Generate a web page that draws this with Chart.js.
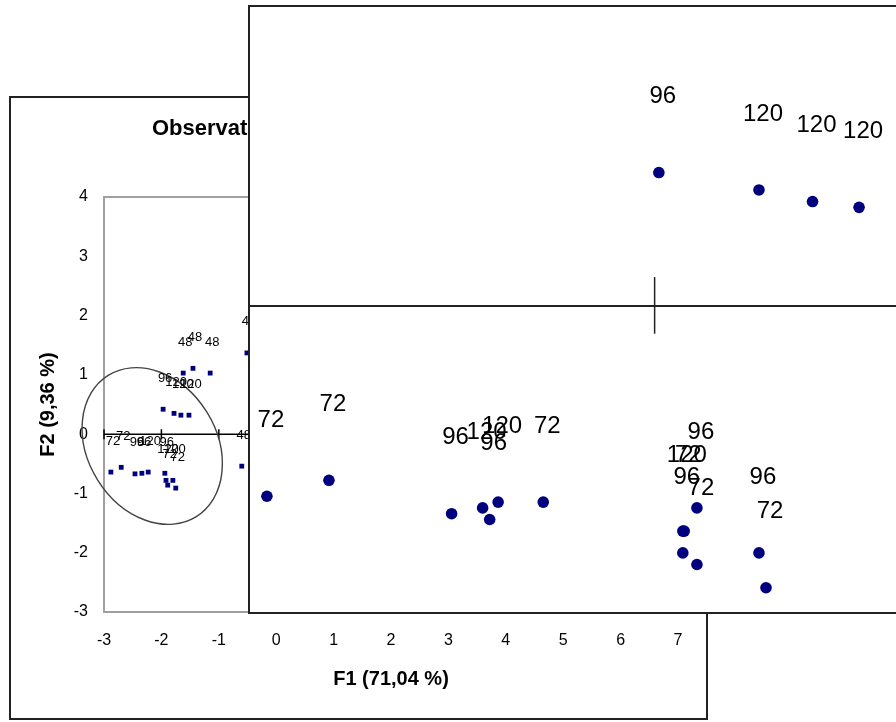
<!DOCTYPE html>
<html>
<head>
<meta charset="utf-8">
<script src="https://cdn.jsdelivr.net/npm/chart.js"></script>
<style>
  html, body { margin: 0; padding: 0; background: #fff; overflow: hidden; }
  #main { position: absolute; left: 0; top: 0; }
  #zoom { position: absolute; left: 248px; top: 5px; }
</style>
</head>
<body>
<canvas id="main" width="896" height="722"></canvas>
<canvas id="zoom" width="660" height="609"></canvas>
<script>
// titles
const chartTitle = 'Observations (axes F1 et F2 : 80,40 %)';
const xTitle = 'F1 (71,04 %)';
const yTitle = 'F2 (9,36 %)';

// main map: observations (F1, F2) and their labels
const obsF1 = [-0.51, -1.45, -1.62, -1.15, -1.97, -1.78, -1.66, -1.52, -0.60,
               -2.88, -2.70, -2.46, -2.34, -2.23, -1.94, -1.92, -1.89, -1.80, -1.75];
const obsF2 = [1.37, 1.11, 1.03, 1.03, 0.42, 0.35, 0.32, 0.32, -0.54,
               -0.64, -0.56, -0.67, -0.66, -0.64, -0.66, -0.78, -0.86, -0.78, -0.91];
const obsLabels = ['48', '48', '48', '48', '96', '120', '120', '120', '48',
                   '72', '72', '96', '96', '120', '96', '120', '72', '120', '72'];

// confidence ellipse (centre, radii in F1 units, tilt in degrees)
const ellipseCenter = [-2.16, -0.20];
const ellipseRadii = [1.45, 1.12];
const ellipseAngle = 58;

// magnified panel pasted over the map
const zoomF1 = [0.03, 0.74, 1.12, 1.45,
                -2.75, -2.31, -1.44, -1.22, -1.11, -1.17, -0.79,
                0.30, 0.20, 0.21, 0.20, 0.30, 0.74, 0.79];
const zoomF2 = [0.92, 0.80, 0.72, 0.68,
                -1.31, -1.20, -1.43, -1.39, -1.35, -1.47, -1.35,
                -1.39, -1.55, -1.55, -1.70, -1.78, -1.70, -1.94];
const zoomLabels = ['96', '120', '120', '120',
                    '72', '72', '96', '120', '120', '96', '72',
                    '96', '120', '72', '96', '72', '96', '72'];

const FONT = '"Liberation Sans", Arial, sans-serif';
const navy = '#00007f';

const pointLabels = {
  id: 'pointLabels',
  afterDatasetsDraw(chart, args, opts) {
    const ctx = chart.ctx;
    const labels = chart.data.datasets[0].labels;
    ctx.save();
    ctx.font = opts.font;
    ctx.fillStyle = '#000';
    ctx.textAlign = 'center';
    ctx.textBaseline = 'middle';
    chart.getDatasetMeta(0).data.forEach((pt, i) => {
      ctx.fillText(labels[i], pt.x + opts.dx, pt.y + opts.dy);
    });
    ctx.restore();
  }
};

const mainDecor = {
  id: 'mainDecor',
  beforeDatasetsDraw(chart) {
    const {ctx, chartArea: a, scales: {x, y}} = chart;
    ctx.save();
    ctx.strokeStyle = '#a0a0a0';
    ctx.lineWidth = 2;
    ctx.strokeRect(a.left, a.top, a.right - a.left, a.bottom - a.top);

    const x0 = x.getPixelForValue(0), y0 = y.getPixelForValue(0);
    ctx.strokeStyle = '#000';
    ctx.lineWidth = 1.5;
    ctx.beginPath();
    ctx.moveTo(a.left, y0); ctx.lineTo(a.right, y0);
    ctx.moveTo(x0, a.top); ctx.lineTo(x0, a.bottom);
    for (let v = -3; v <= 7; v++) {
      const px = x.getPixelForValue(v);
      ctx.moveTo(px, y0 - 5); ctx.lineTo(px, y0 + 5);
    }
    for (let v = -3; v <= 4; v++) {
      const py = y.getPixelForValue(v);
      ctx.moveTo(x0 - 5, py); ctx.lineTo(x0 + 5, py);
    }
    ctx.stroke();

    // ellipse
    const cx = x.getPixelForValue(ellipseCenter[0]);
    const cy = y.getPixelForValue(ellipseCenter[1]);
    const rx = x.getPixelForValue(ellipseCenter[0] + ellipseRadii[0]) - cx;
    const ry = x.getPixelForValue(ellipseCenter[0] + ellipseRadii[1]) - cx;
    ctx.strokeStyle = '#444';
    ctx.lineWidth = 1.4;
    ctx.beginPath();
    ctx.ellipse(cx, cy, rx, ry, ellipseAngle * Math.PI / 180, 0, 2 * Math.PI);
    ctx.stroke();
    ctx.restore();
  },
  afterDraw(chart) {
    const ctx = chart.ctx;
    ctx.save();
    ctx.strokeStyle = '#222';
    ctx.lineWidth = 2;
    ctx.strokeRect(10, 97, 697, 622);
    ctx.fillStyle = '#000';
    ctx.font = 'bold 22px ' + FONT;
    ctx.textAlign = 'left';
    ctx.textBaseline = 'middle';
    ctx.fillText(chartTitle, 152, 129);
    ctx.restore();
  }
};

const zoomDecor = {
  id: 'zoomDecor',
  beforeDraw(chart) {
    const {ctx, width, height} = chart;
    ctx.save();
    ctx.fillStyle = '#fff';
    ctx.fillRect(0, 0, width, height);
    ctx.restore();
  },
  beforeDatasetsDraw(chart) {
    const {ctx, width, height, scales: {x, y}} = chart;
    ctx.save();
    ctx.strokeStyle = '#222';
    ctx.lineWidth = 2;
    ctx.strokeRect(1, 1, width + 10, height - 2);
    const x0 = x.getPixelForValue(0), y0 = y.getPixelForValue(0);
    ctx.beginPath();
    ctx.moveTo(0, y0); ctx.lineTo(width, y0);
    ctx.stroke();
    ctx.lineWidth = 1.5;
    ctx.beginPath();
    ctx.moveTo(x0, y.getPixelForValue(0.2)); ctx.lineTo(x0, y.getPixelForValue(-0.19));
    ctx.stroke();
    ctx.restore();
  }
};

new Chart(document.getElementById('main'), {
  type: 'scatter',
  data: {
    datasets: [{
      data: obsF1.map((v, i) => ({x: v, y: obsF2[i]})),
      labels: obsLabels,
      pointStyle: 'rect',
      pointRadius: 3.4,
      backgroundColor: navy,
      borderWidth: 0
    }]
  },
  options: {
    responsive: false,
    animation: false,
    events: [],
    layout: {padding: {left: 10, top: 197, right: 218, bottom: 30}},
    plugins: {
      legend: {display: false},
      tooltip: {enabled: false},
      pointLabels: {font: '13px ' + FONT, dx: 2, dy: -31}
    },
    scales: {
      x: {
        type: 'linear',
        min: -3, max: 7,
        afterFit(s) { s.height = 80; },
        grid: {display: false, drawTicks: false},
        border: {display: false},
        ticks: {stepSize: 1, padding: 19, maxRotation: 0, color: '#000', font: {family: FONT, size: 16}},
        title: {display: true, text: xTitle, color: '#000', font: {family: FONT, size: 20, weight: 'bold'}, padding: {top: 0, bottom: 1}}
      },
      y: {
        type: 'linear',
        min: -3, max: 4,
        afterFit(s) { s.width = 94; },
        grid: {display: false, drawTicks: false},
        border: {display: false},
        ticks: {stepSize: 1, padding: 16, color: '#000', font: {family: FONT, size: 16}},
        title: {display: true, text: yTitle, color: '#000', font: {family: FONT, size: 20, weight: 'bold'}, padding: {top: 26, bottom: 0}}
      }
    }
  },
  plugins: [mainDecor, pointLabels]
});

new Chart(document.getElementById('zoom'), {
  type: 'scatter',
  data: {
    datasets: [{
      data: zoomF1.map((v, i) => ({x: v, y: zoomF2[i]})),
      labels: zoomLabels,
      pointStyle: 'circle',
      pointRadius: 5.8,
      backgroundColor: navy,
      borderWidth: 0
    }]
  },
  options: {
    responsive: false,
    animation: false,
    events: [],
    layout: {padding: 0},
    plugins: {
      legend: {display: false},
      tooltip: {enabled: false},
      pointLabels: {font: '24px ' + FONT, dx: 4, dy: -76}
    },
    scales: {
      x: {type: 'linear', display: false, min: -2.843, max: 1.756},
      y: {type: 'linear', display: false, min: -2.081, max: 2.034}
    }
  },
  plugins: [zoomDecor, pointLabels]
});
</script>
</body>
</html>
